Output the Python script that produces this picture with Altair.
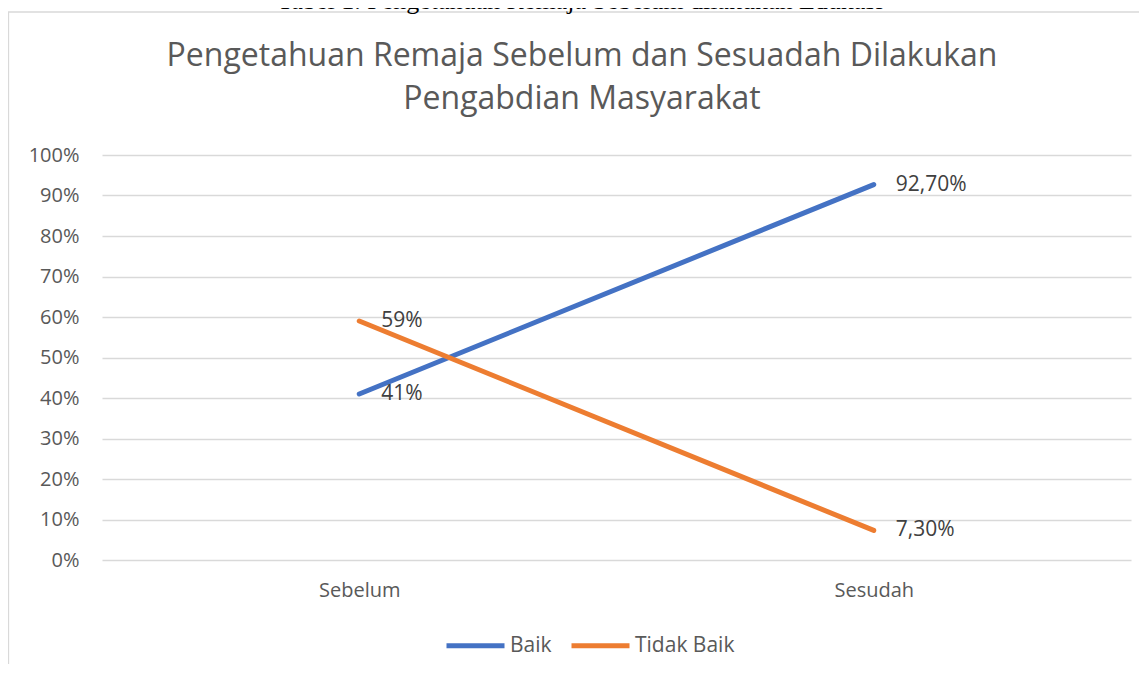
import altair as alt
import pandas as pd

# ---- data ----
categories = ["Sebelum", "Sesudah"]
series = ["Baik", "Tidak Baik"]
baik = [0.41, 0.927]
tidak_baik = [0.59, 0.073]
labels_baik = ["41%", "92,70%"]
labels_tidak_baik = ["59%", "7,30%"]
colors = ["#4472C4", "#ED7D31"]
y_ticks = [0.0, 0.1, 0.2, 0.3, 0.4, 0.5, 0.6, 0.7, 0.8, 0.9, 1.0]
caption = ["Tabel 1. Pengetahuan Remaja Sebelum dilakukan Edukasi"]
title_lines = ["Pengetahuan Remaja Sebelum dan Sesuadah Dilakukan", "Pengabdian Masyarakat"]

rows = []
for s, vals, labs in [(series[0], baik, labels_baik), (series[1], tidak_baik, labels_tidak_baik)]:
    for c, v, l in zip(categories, vals, labs):
        rows.append({"Kategori": c, "Seri": s, "Nilai": v, "Label": l})
df = pd.DataFrame(rows)

FONT = "Open Sans"
W, H = 1029, 405
PAD_L, PAD_T, PAD_R, PAD_B = 94, 147, 8, 104

x_enc = alt.X(
    "Kategori:N",
    sort=categories,
    scale=alt.Scale(type="point", padding=0.5),
    axis=alt.Axis(title=None, labelAngle=0, domain=False, ticks=False, grid=False,
                  labelPadding=20, labelFontSize=20, labelFont=FONT, labelColor="#595959"),
)
y_enc = alt.Y(
    "Nilai:Q",
    scale=alt.Scale(domain=[0, 1], nice=False),
    axis=alt.Axis(title=None, values=y_ticks, format=".0%", domain=False, ticks=False,
                  labelPadding=23, labelFontSize=20, labelFont=FONT, labelColor="#595959",
                  gridColor="#d9d9d9", gridWidth=1.3),
)

frame_df = pd.DataFrame({"f": [0]})
frame_top = alt.Chart(frame_df).mark_rule(color="#d9d9d9", strokeWidth=1.3).encode(
    x=alt.value(-PAD_L), x2=alt.value(W + PAD_R), y=alt.value(-143)
)
frame_left = alt.Chart(frame_df).mark_rule(color="#d9d9d9", strokeWidth=1.3).encode(
    x=alt.value(-PAD_L + 0.5), y=alt.value(-143), y2=alt.value(H + PAD_B)
)

cap = alt.Chart(pd.DataFrame({"t": caption})).mark_text(
    font="Liberation Serif", fontSize=26, color="#000000", align="center", baseline="alphabetic"
).encode(x=alt.value(478), y=alt.value(-146), text="t:N")

title_baselines = [-89, -46]
title_layers = [
    alt.Chart(pd.DataFrame({"t": [line]})).mark_text(
        font=FONT, fontSize=32, color="#595959", align="center", baseline="alphabetic"
    ).encode(x=alt.value(480), y=alt.value(yb), text="t:N")
    for line, yb in zip(title_lines, title_baselines)
]

lines = alt.Chart(df).mark_line(strokeWidth=5, strokeCap="round", strokeJoin="round").encode(
    x=x_enc,
    y=y_enc,
    color=alt.Color(
        "Seri:N",
        scale=alt.Scale(domain=series, range=colors),
        legend=alt.Legend(
            orient="none", legendX=342, legendY=459, direction="horizontal", title=None,
            symbolType="stroke", symbolSize=3364, symbolStrokeWidth=5,
            labelFontSize=21, labelFont=FONT, labelColor="#595959",
            columnPadding=9, labelOffset=3, padding=0,
        ),
    ),
    order=alt.Order("Seri:N"),
)

texts = alt.Chart(df).mark_text(
    align="left", baseline="middle", dx=22, fontSize=21, font=FONT, color="#404040"
).encode(x=x_enc, y=y_enc, text="Label:N")

chart = alt.layer(frame_top, frame_left, cap, *title_layers, lines, texts).properties(
    width=W,
    height=H,
    padding={"left": PAD_L, "top": PAD_T, "right": PAD_R, "bottom": PAD_B},
    autosize=alt.AutoSizeParams(type="none"),
    background="white",
).configure_view(stroke=None)

chart.save("out.html", embed_options={"renderer": "svg", "actions": False})
